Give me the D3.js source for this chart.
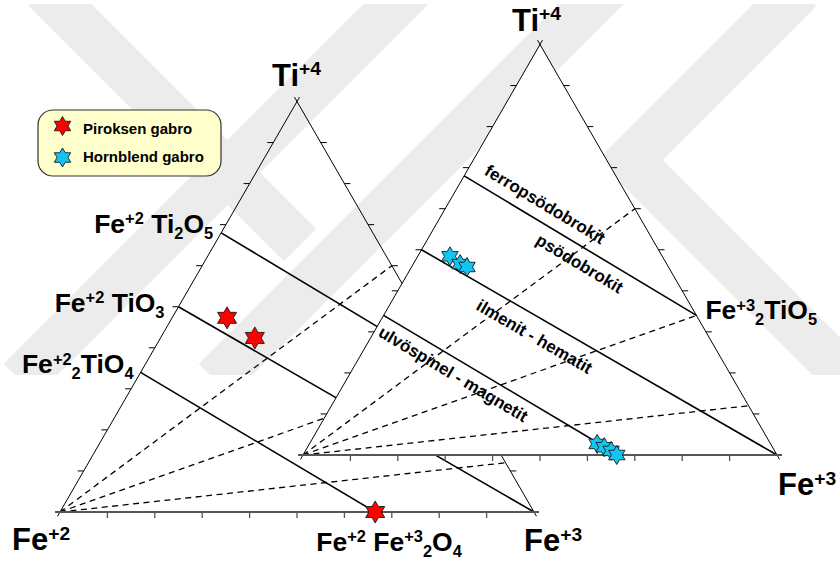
<!DOCTYPE html>
<html>
<head>
<meta charset="utf-8">
<script src="https://cdn.jsdelivr.net/npm/d3@7"></script>
<style>
  body { margin: 0; background: #fff; }
  svg { display: block; }
  text { font-family: "Liberation Sans", Arial, sans-serif; font-weight: bold; fill: #000; }
</style>
</head>
<body>
<svg id="chart" width="840" height="566"></svg>
<script>
// ---- data: cation fractions [Fe+2, Fe+3, Ti+4] ----
const piroksenGabro = [
  [0.411, 0.116, 0.473],
  [0.377, 0.199, 0.424],
  [0.335, 0.665, 0.000]
];
const hornblendGabro = [
  [0.448, 0.068, 0.484],
  [0.436, 0.099, 0.465],
  [0.425, 0.117, 0.458],
  [0.366, 0.607, 0.027],
  [0.355, 0.626, 0.019],
  [0.345, 0.645, 0.010],
  [0.338, 0.662, 0.000]
];
// solid-solution joins (end members)
const joinNames = ["psödobrokit", "ilmenit - hematit", "ulvöspinel - magnetit"];
const joinFrom = [[0.32, 0, 0.68], [0.5, 0, 0.5], [0.66, 0, 0.34]];
const joinTo   = [[0, 0.66, 0.34], [0, 1, 0], [0.335, 0.665, 0]];
// oxidation lines from Fe+2 towards the Ti–Fe+3 side (Fe+3 share on that side)
const oxidationTargets = [0.4, 0.66, 0.88];
const tickValues = [0.1, 0.2, 0.3, 0.4, 0.5, 0.6, 0.7, 0.8, 0.9];
const seriesNames = ["Piroksen gabro", "Hornblend gabro"];
const seriesColors = ["#ff0000", "#12c4f2"];

const svg = d3.select("#chart");
const SIDE = 474, HT = SIDE * Math.sqrt(3) / 2;

function ternary(x0, y0) {
  const xs = d3.scaleLinear().domain([0, 1]).range([x0, x0 + SIDE]);
  const ys = d3.scaleLinear().domain([0, 1]).range([y0, y0 - HT]);
  return ([a, b, c]) => [xs(b + c / 2), ys(c)];
}
const leftT = ternary(60, 512);
const rightT = ternary(303, 455);

// six-pointed star symbol
const hexagram = {
  draw(ctx, size) {
    const r = Math.sqrt(size), ri = r / Math.sqrt(3);
    for (let i = 0; i < 12; i++) {
      const rad = i % 2 ? ri : r, ang = -Math.PI / 2 + i * Math.PI / 6;
      const x = rad * Math.cos(ang), y = rad * Math.sin(ang);
      i ? ctx.lineTo(x, y) : ctx.moveTo(x, y);
    }
    ctx.closePath();
  }
};
const star = r => d3.symbol().type(hexagram).size(r * r)();

// ---- background stripes ----
const wm = svg.append("g");
svg.append("clipPath").attr("id", "wmclip").append("rect")
  .attr("x", 0).attr("y", 4).attr("width", 840).attr("height", 371);
wm.attr("clip-path", "url(#wmclip)")
  .attr("fill", "none").attr("stroke", "#ececec").attr("stroke-width", 46);
const stripes = [
  [[45, -10], [300, 245]],
  [[420, -20], [20, 380]],
  [[615, -20], [215, 380]],
  [[800, -10], [630, 160], [850, 380]]
];
stripes.forEach(s => wm.append("path").attr("d", d3.line()(s)));

const line = d3.line();

function drawTriangle(T, fillWhite) {
  const g = svg.append("g");
  const V = [[1, 0, 0], [0, 1, 0], [0, 0, 1]].map(T);
  if (fillWhite) g.append("path").attr("d", line(V) + "Z").attr("fill", "#fff");

  // oxidation lines
  oxidationTargets.forEach(t => {
    g.append("path").attr("d", line([T([1, 0, 0]), T([0, t, 1 - t])]))
      .attr("stroke", "#000").attr("stroke-width", 1.3)
      .attr("stroke-dasharray", "6,4.5").attr("fill", "none");
  });
  // joins
  joinFrom.forEach((f, i) => {
    g.append("path").attr("d", line([T(f), T(joinTo[i])]))
      .attr("stroke", "#000").attr("stroke-width", 1.6).attr("fill", "none");
  });

  // edges with small extensions past the vertices
  const ext = 5;
  const edges = [[0, 2], [1, 2], [0, 1]];
  edges.forEach(([i, j], k) => {
    const p = V[i], q = V[j];
    const dx = q[0] - p[0], dy = q[1] - p[1], L = Math.hypot(dx, dy);
    const ux = dx / L, uy = dy / L;
    g.append("path")
      .attr("d", line([[p[0] - ux * ext, p[1] - uy * ext], [q[0] + ux * ext, q[1] + uy * ext]]))
      .attr("stroke", k === 2 ? "#555" : "#000")
      .attr("stroke-width", k === 2 ? 2 : 1).attr("fill", "none");
  });
  // ticks
  const tk = 6;
  tickValues.forEach(v => {
    const pl = T([1 - v, 0, v]);
    g.append("path").attr("d", line([pl, [pl[0] - tk, pl[1]]])).attr("stroke", "#000");
    const pr = T([0, 1 - v, v]);
    g.append("path").attr("d", line([pr, [pr[0] + tk, pr[1]]])).attr("stroke", "#000");
    const pb = T([1 - v, v, 0]);
    g.append("path").attr("d", line([pb, [pb[0], pb[1] + tk]])).attr("stroke", "#555").attr("stroke-width", 1.3);
  });
  return g;
}

function richText(parent, parts, x, y, size, anchor) {
  const t = parent.append("text").attr("x", x).attr("y", y)
    .attr("font-size", size).attr("text-anchor", anchor || "start");
  let shift = 0;
  parts.forEach(p => {
    const target = p.sup ? -size * 0.33 : p.sub ? size * 0.22 : 0;
    const fs = (p.sup || p.sub) ? size * 0.62 : size;
    t.append("tspan").attr("dy", target - shift).attr("font-size", fs).text(p.t);
    shift = target;
  });
  return t;
}

const CF = 26.5; // compound label size

// ---- left diagram ----
drawTriangle(leftT, false);
const labL = svg.append("g");
const apexL = leftT([0, 0, 1]), fe2L = leftT([1, 0, 0]), fe3L = leftT([0, 1, 0]);
richText(labL, [{t: "Ti"}, {t: "+4", sup: 1}], apexL[0] - 25, apexL[1] - 16, 31);
richText(labL, [{t: "Fe"}, {t: "+2", sup: 1}], fe2L[0] - 48, fe2L[1] + 38, 31);
richText(labL, [{t: "Fe"}, {t: "+3", sup: 1}], fe3L[0] - 10, fe3L[1] + 39, 31);
const pA = leftT(joinFrom[0]), pB = leftT(joinFrom[1]), pC = leftT(joinFrom[2]), pM = leftT(joinTo[2]);
richText(labL, [{t: "Fe"}, {t: "+2", sup: 1}, {t: " Ti"}, {t: "2", sub: 1}, {t: "O"}, {t: "5", sub: 1}], pA[0] - 8, pA[1] + 0, CF, "end");
richText(labL, [{t: "Fe"}, {t: "+2", sup: 1}, {t: " TiO"}, {t: "3", sub: 1}], pB[0] - 14, pB[1] + 5, CF, "end");
richText(labL, [{t: "Fe"}, {t: "+2", sup: 1}, {t: "2", sub: 1}, {t: "TiO"}, {t: "4", sub: 1}], pC[0] - 7, pC[1] + 1, CF, "end");
richText(labL, [{t: "Fe"}, {t: "+2", sup: 1}, {t: " Fe"}, {t: "+3", sup: 1}, {t: "2", sub: 1}, {t: "O"}, {t: "4", sub: 1}], pM[0] - 59, pM[1] + 39, CF);

// ---- right diagram ----
drawTriangle(rightT, true);
const labR = svg.append("g");
const apexR = rightT([0, 0, 1]), fe3R = rightT([0, 1, 0]);
richText(labR, [{t: "Ti"}, {t: "+4", sup: 1}], apexR[0] - 28, apexR[1] - 14, 31);
richText(labR, [{t: "Fe"}, {t: "+3", sup: 1}], fe3R[0] + 1, fe3R[1] + 40, 31);
const pP = rightT(joinTo[0]);
richText(labR, [{t: "Fe"}, {t: "+3", sup: 1}, {t: "2", sub: 1}, {t: "TiO"}, {t: "5", sub: 1}], pP[0] + 9, pP[1] + 4, CF);

// labels along the joins: [join index, label text, fraction along, offset below (px)]
const joinLabels = [
  [0, "ferropsödobrokit", 0.31, -17],
  [0, joinNames[0], 0.532, 16],
  [1, joinNames[1], 0.344, 19],
  [2, joinNames[2], 0.329, 15]
];
joinLabels.forEach(([j, txt, f, off]) => {
  const p = rightT(joinFrom[j]), q = rightT(joinTo[j]);
  const dx = q[0] - p[0], dy = q[1] - p[1], L = Math.hypot(dx, dy);
  const ux = dx / L, uy = dy / L;
  const cx = p[0] + dx * f - uy * off, cy = p[1] + dy * f + ux * off;
  const ang = Math.atan2(dy, dx) * 180 / Math.PI;
  labR.append("text").attr("transform", `translate(${cx},${cy}) rotate(${ang})`)
    .attr("text-anchor", "middle").attr("dy", "0.33em").attr("font-size", 17).text(txt);
});

// ---- samples ----
const pts = svg.append("g").attr("stroke", "#1a1a1a").attr("stroke-width", 0.9);
pts.selectAll(".pg").data(piroksenGabro).join("path")
  .attr("transform", d => `translate(${leftT(d)})`).attr("d", star(11)).attr("fill", seriesColors[0]);
pts.selectAll(".hg").data(hornblendGabro).join("path")
  .attr("transform", d => `translate(${rightT(d)})`).attr("d", star(9.5)).attr("fill", seriesColors[1]);

// ---- legend ----
const lg = svg.append("g");
lg.append("rect").attr("x", 38).attr("y", 110).attr("width", 183).attr("height", 66)
  .attr("rx", 15).attr("fill", "#ffffcc").attr("stroke", "#333").attr("stroke-width", 1.2);
seriesNames.forEach((n, i) => {
  lg.append("path").attr("transform", `translate(62.5,${126 + i * 31.5})`).attr("d", star(9.5))
    .attr("fill", seriesColors[i]).attr("stroke", "#1a1a1a").attr("stroke-width", 0.9);
  lg.append("text").attr("x", 83).attr("y", 134 + i * 28).attr("font-size", 15).text(n);
});
</script>
</body>
</html>
